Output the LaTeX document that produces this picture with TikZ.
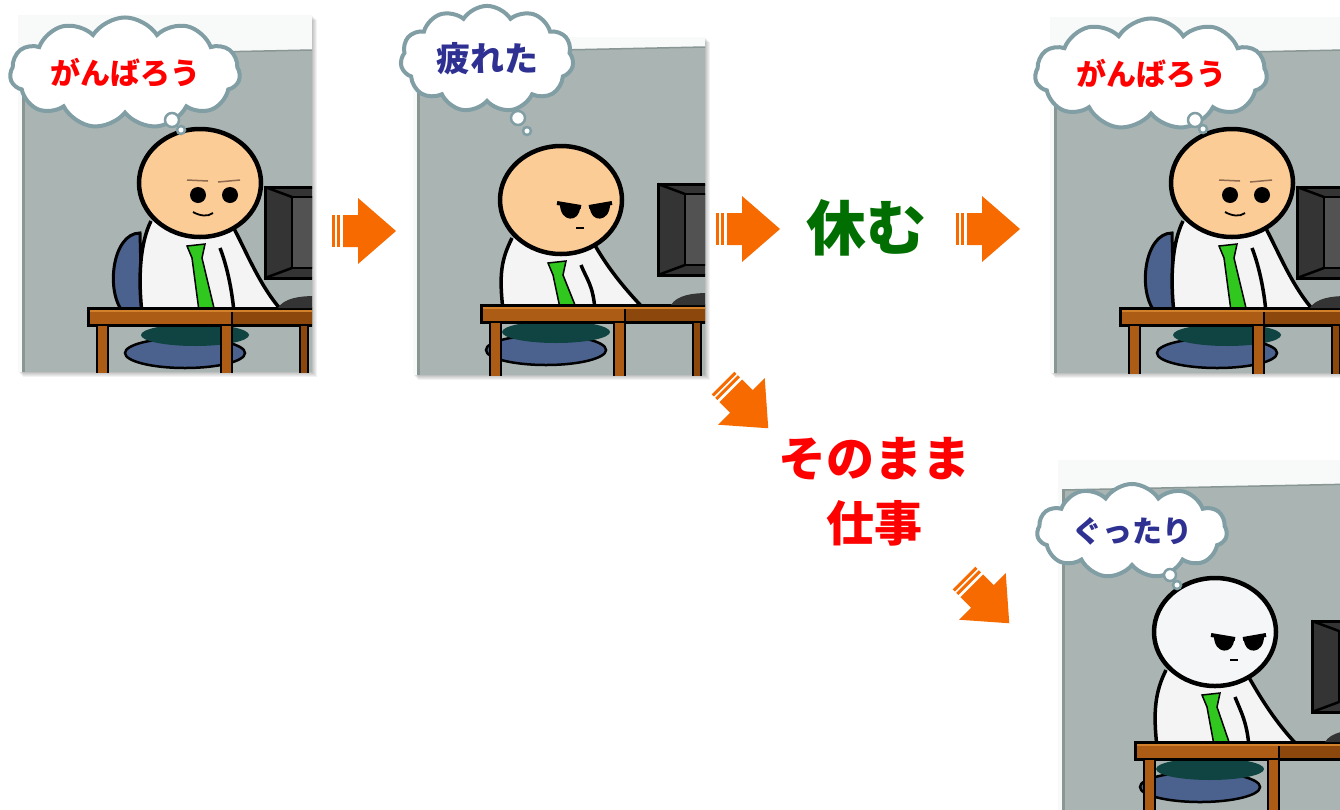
\documentclass[tikz,border=0pt]{standalone}
\usepackage{fontspec}
\usepackage{tikz}
\usetikzlibrary{shapes.symbols}
\newfontfamily\jp{Noto Sans CJK JP}

\definecolor{paper}{RGB}{248,249,249}
\definecolor{wall}{RGB}{170,181,179}
\definecolor{walledge}{RGB}{136,150,148}
\definecolor{skin}{RGB}{252,204,150}
\definecolor{pale}{RGB}{244,246,248}
\definecolor{shirt}{RGB}{244,244,244}
\definecolor{tiegreen}{RGB}{48,200,30}
\definecolor{chairblue}{RGB}{76,98,142}
\definecolor{pants}{RGB}{16,68,66}
\definecolor{desk}{RGB}{172,92,20}
\definecolor{deskdark}{RGB}{140,72,12}
\definecolor{desktop}{RGB}{210,128,42}
\definecolor{screen}{RGB}{52,52,52}
\definecolor{brown}{RGB}{142,107,78}
\definecolor{cloudline}{RGB}{128,158,164}
\definecolor{goorange}{RGB}{247,106,0}
\definecolor{cheerred}{RGB}{255,0,0}
\definecolor{tiredblue}{RGB}{46,49,146}
\definecolor{restgreen}{RGB}{0,110,0}

\tikzset{
  fatarrow/.pic={
    \fill[goorange] (0,-16) rectangle (3,16);
    \fill[goorange] (5,-16) rectangle (8,16);
    \fill[goorange] (11,-16) -- (26,-16) -- (26,-33) -- (64,0) -- (26,33) -- (26,16) -- (11,16) -- cycle;
  },
  happyface/.pic={
    \fill (-2,12) circle [radius=8pt];
    \fill (30,12) circle [radius=8pt];
    \draw[brown, line width=1.5pt] (-13,-3) -- (8,-2);
    \draw[brown, line width=1.5pt] (18,-1) -- (40,-3);
    \draw[line width=1.8pt] (-7,29) .. controls (0,33) and (8,34) .. (13,30);
  },
  tiredface/.pic={
    \fill (-1,4) -- (19,7) .. controls (19,23) and (-1,23) .. (-1,4) -- cycle;
    \draw[line width=4pt] (-4,3) -- (20,7);
    \fill (29,7) -- (49,4) .. controls (49,23) and (29,23) .. (29,7) -- cycle;
    \draw[line width=4pt] (28,7) -- (51,3);
    \draw[line width=1.6pt] (15,28) -- (23,28);
  }
}

% back wall of one panel: left, top, bottom
\newcommand{\officewall}[3]{%
  \fill[paper] (#1,#2) rectangle (0,#3);
  \fill[wall] (#1+4,-252) -- (0,-258) -- (0,#3) -- (#1+4,#3) -- cycle;
  \draw[walledge, line width=1.5pt] (#1+4,-252) -- (0,-258);
  \fill[walledge] (#1+4,-252) rectangle (#1+7,#3);
}

% soft shadow under a panel
\newcommand{\photoshadow}[3]{%
  \foreach \s in {1,...,5}
    \fill[black, opacity=0.05] (#1+\s,#2+\s) rectangle (\s,#3+\s);
}

\newcommand{\chairback}[2]{%
  \filldraw[fill=chairblue, line width=3pt] (#1-60,#2+50) .. controls (#1-88,#2+50) and (#1-95,#2+110) .. (#1-76,#2+130) -- (#1-58,#2+130) -- cycle;
}

% head x, head y, gap down to the desk, skin colour, face
\newcommand{\officeguy}[5]{%
  \begin{scope}[shift={(#1,#2)}]
    \filldraw[fill=chairblue, line width=2.5pt] (-15,#3+45) ellipse [x radius=60pt, y radius=15pt];
    \fill[pants] (-5,#3+27) ellipse [x radius=54pt, y radius=11pt];
    \fill[shirt] (-49,38) .. controls (-60,60) and (-62,#3-30) .. (-58,#3+5) -- (84,#3+5) .. controls (60,#3-20) and (45,65) .. (32,42) -- cycle;
    \draw[line width=3.5pt] (-49,38) .. controls (-60,60) and (-62,#3-30) .. (-58,#3+5);
    \draw[line width=3.5pt] (32,42) .. controls (45,65) and (60,#3-20) .. (84,#3+5);
    \draw[line width=3.5pt] (20,65) .. controls (26,80) and (32,#3-20) .. (34,#3+5);
    \filldraw[fill=tiegreen, line width=1.5pt] (-13,63) -- (5,61) -- (2,75) -- (14,#3) -- (-1,#3+3) -- (-8,75) -- cycle;
    \filldraw[fill=#4, line width=4.5pt] (0,0) ellipse [x radius=61pt, y radius=54pt];
    \pic {#5};
  \end{scope}}

% desk, legs and monitor; origin at the desk's right top corner
\newcommand{\officedesk}{%
  \filldraw[fill=desk, line width=3pt] (-224,0) rectangle (3,17);
  \fill[deskdark] (-80,1.5) rectangle (3,15.5);
  \draw[line width=2.5pt] (-80,0) -- (-80,17);
  \fill[desktop] (-222,1.5) rectangle (0,4);
  \filldraw[fill=desk, line width=2.5pt] (-215,17) rectangle (-204,72);
  \filldraw[fill=desk, line width=2.5pt] (-91,17) rectangle (-80,72);
  \filldraw[fill=deskdark, line width=2.5pt] (-12,17) rectangle (-4,72);
  \fill[screen] (-34,0) .. controls (-28,-10) and (-12,-12) .. (3,-12) -- (3,0) -- cycle;
  \filldraw[fill=screen, line width=3pt] (-47,-121) rectangle (3,-30);
  \filldraw[fill=screen!85!white, line width=2.5pt] (-20,-111) rectangle (3,-40);
  \draw[line width=2.5pt] (-47,-121) -- (-20,-111) (-47,-30) -- (-20,-40);
}

\begin{document}
\begin{tikzpicture}[x=1pt, y=-1pt,
    thought/.style={cloud, cloud puffs=11, cloud puff arc=115, aspect=2.6, draw=cloudline, fill=white, line width=4pt, inner sep=0pt},
    bubble/.style={circle, draw=cloudline, fill=white, line width=2.5pt, inner sep=0pt},
    say/.style={font=\jp\bfseries\fontsize{30}{30}\selectfont},
    choice/.style={font=\jp\bfseries\fontsize{48}{65}\selectfont, align=center}
]
    \useasboundingbox (0,0) rectangle (1340,809);
    \fill[white] (0,0) rectangle (1340,809);

    % Working hard
    \begin{scope}[shift={(312,308)}]
        \photoshadow{-294}{-293}{64}
        \begin{scope}
            \clip (-294,-293) rectangle (0,64);
            \officewall{-294}{-293}{64}
            \chairback{-112}{-125}
            \officeguy{-112}{-125}{125}{skin}{happyface}
            \officedesk
        \end{scope}
    \end{scope}

    % Tired
    \begin{scope}[shift={(705,305)}]
        \photoshadow{-292}{-268}{70}
        \begin{scope}
            \clip (-292,-268) rectangle (0,70);
            \officewall{-292}{-268}{70}
            \officeguy{-144}{-105}{105}{skin}{tiredface}
            \officedesk
        \end{scope}
    \end{scope}

    % After a rest
    \begin{scope}[shift={(1344,308)}]
        \photoshadow{-294}{-291}{65}
        \begin{scope}
            \clip (-294,-291) rectangle (0,65);
            \officewall{-294}{-291}{65}
            \chairback{-112}{-125}
            \officeguy{-112}{-125}{125}{skin}{happyface}
            \officedesk
        \end{scope}
    \end{scope}

    % Worn out
    \begin{scope}[shift={(1359,742)}]
        \photoshadow{-301}{-282}{70}
        \begin{scope}
            \clip (-301,-282) rectangle (0,70);
            \officewall{-301}{-282}{70}
            \officeguy{-144}{-110}{110}{pale}{tiredface}
            \officedesk
        \end{scope}
    \end{scope}

    % Thought clouds
    \node[thought, minimum width=230, minimum height=86, say, text=cheerred] (cheer1) at (125,73) {がんばろう};
    \node[bubble, minimum size=14] (cheer1a) at (172,120) {};
    \node[bubble, minimum size=8] (cheer1b) at (181,130) {};

    \node[thought, aspect=1.65, minimum width=173, minimum height=106, font=\jp\bfseries\fontsize{34}{34}\selectfont, text=tiredblue] (tired) at (487,59) {疲れた};
    \node[bubble, minimum size=14] (tireda) at (518,118) {};
    \node[bubble, minimum size=8] (tiredb) at (527,131) {};

    \node[thought, minimum width=232, minimum height=86, say, text=cheerred] (cheer2) at (1151,74) {がんばろう};
    \node[bubble, minimum size=14] (cheer2a) at (1195,120) {};
    \node[bubble, minimum size=8] (cheer2b) at (1203,129) {};

    \node[thought, aspect=2.4, minimum width=190, minimum height=78, say, text=tiredblue] (limp) at (1132,531) {ぐったり};
    \node[bubble, minimum size=12] (limpa) at (1170,575) {};
    \node[bubble, minimum size=8] (limpb) at (1177,585) {};

    % Choices
    \node[font=\jp\bfseries\fontsize{60}{60}\selectfont, text=restgreen] (rest) at (866,228) {休む};
    \node[choice, text=cheerred] (keepon) at (874,492) {そのまま\\仕事};

    % Arrows
    \pic at (332,231) {fatarrow};
    \pic at (716,229) {fatarrow};
    \pic at (956,229) {fatarrow};
    \pic[rotate=-45] at (723,383) {fatarrow};
    \pic[rotate=-45] at (964,578) {fatarrow};
\end{tikzpicture}
\end{document}
